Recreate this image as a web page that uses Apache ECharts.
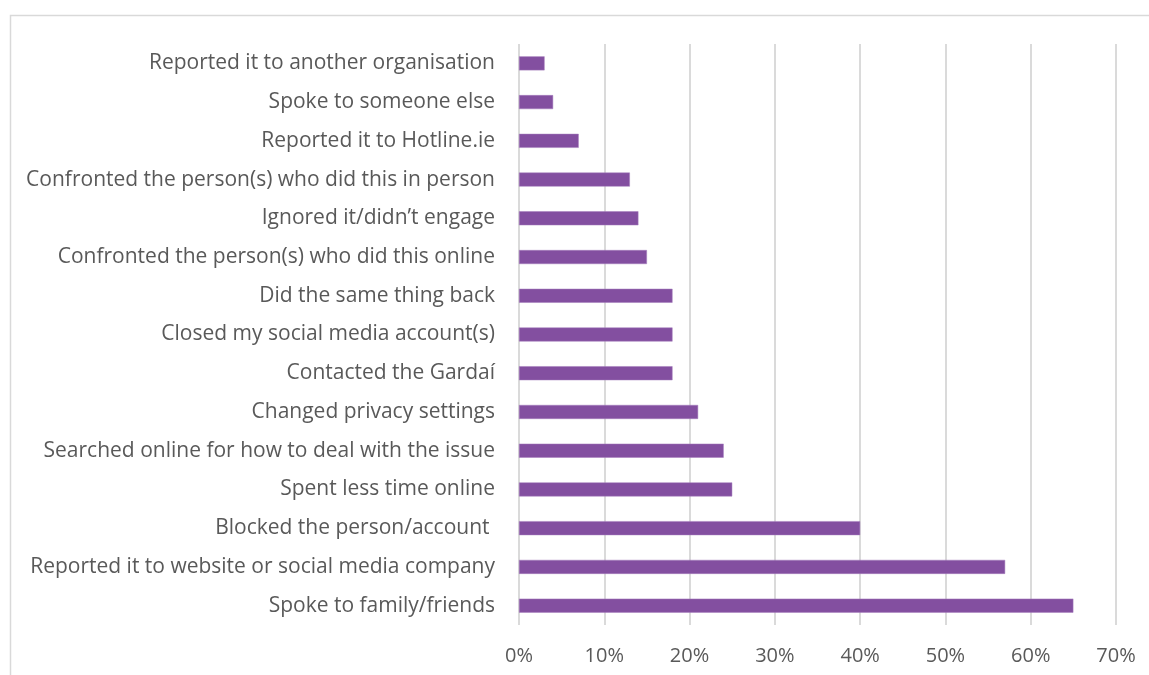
<!DOCTYPE html>
<html>
<head>
<meta charset="utf-8">
<script src="https://cdn.jsdelivr.net/npm/echarts@6/dist/echarts.min.js"></script>
<style>
html,body{margin:0;padding:0;background:#fff;}
#c{width:1149px;height:675px;}
</style>
</head>
<body>
<div id="c"></div>
<script>
const categories = [
  "Spoke to family/friends",
  "Reported it to website or social media company",
  "Blocked the person/account ",
  "Spent less time online",
  "Searched online for how to deal with the issue",
  "Changed privacy settings",
  "Contacted the Gardaí",
  "Closed my social media account(s)",
  "Did the same thing back",
  "Confronted the person(s) who did this online",
  "Ignored it/didn\u2019t engage",
  "Confronted the person(s) who did this in person",
  "Reported it to Hotline.ie",
  "Spoke to someone else",
  "Reported it to another organisation"
];
const values = [65, 57, 40, 25, 24, 21, 18, 18, 18, 15, 14, 13, 7, 4, 3];
const xMax = 70;
const xInterval = 10;

const chart = echarts.init(document.getElementById('c'), null, {renderer: 'canvas'});
const font = '"Open Sans", Lato, "Liberation Sans", sans-serif';
chart.setOption({
  animation: false,
  backgroundColor: '#fff',
  graphic: [{
    type: 'rect',
    shape: {x: 10.5, y: 15.5, width: 1200, height: 700},
    style: {fill: 'none', stroke: '#d9d9d9', lineWidth: 1.5},
    silent: true
  }],
  grid: {left: 519, right: 33, top: 44, bottom: 50, containLabel: false},
  xAxis: {
    type: 'value',
    min: 0,
    max: xMax,
    interval: xInterval,
    axisLine: {show: false},
    axisTick: {show: false},
    splitLine: {show: true, lineStyle: {color: '#dadada', width: 2}},
    axisLabel: {
      formatter: v => v + '%',
      color: '#595959',
      fontSize: 20,
      fontFamily: font,
      margin: 21
    }
  },
  yAxis: {
    type: 'category',
    data: categories,
    axisLine: {show: false},
    axisTick: {show: false},
    axisLabel: {
      color: '#595959',
      fontSize: 21,
      fontFamily: font,
      margin: 24
    }
  },
  series: [{
    type: 'bar',
    data: values,
    barWidth: 14,
    itemStyle: {color: '#834FA0', borderColor: '#a57cbd', borderWidth: 0.5}
  }]
});
</script>
</body>
</html>
